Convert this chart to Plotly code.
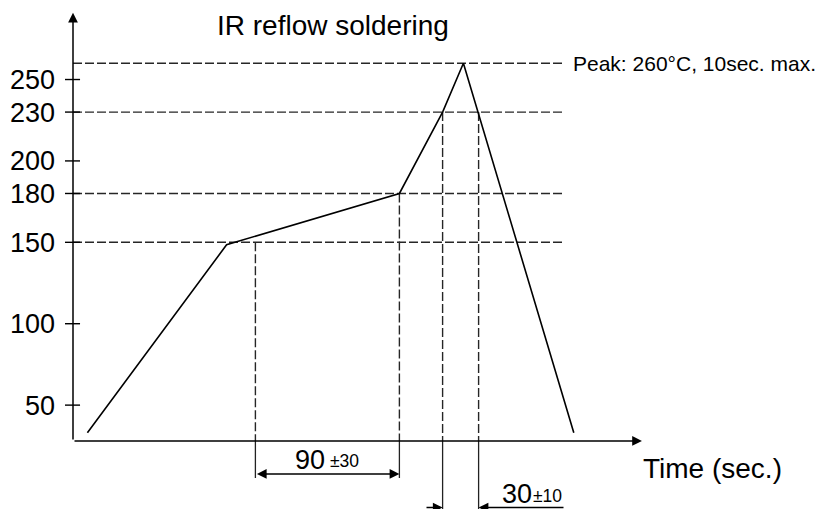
import plotly.graph_objects as go

# ---- data ----
profile_time = [9, 96, 204, 231, 244, 313]          # s (schematic)
profile_temp = [33, 148.5, 180, 230, 260, 33]        # °C
ytick_vals = [50, 100, 150, 180, 200, 230, 250]
ytick_text = ["50", "100", "150", "180", "200", "230", "250"]
h_levels = [150, 180, 230, 260]                      # dashed reference temps
v_times = [114, 204, 231, 253.5]                     # dashed verticals (time)
v_levels = [150, 180, 230, 230]                      # top of each vertical
soak_window = (114, 204)                             # 90 ±30 s
peak_window = (231, 253.5)                           # 30 ±10 s

FONT = "Liberation Sans, Arial, Helvetica, sans-serif"
W, H = 831, 509
OFF = 8                    # page body margin
X0, XPX = 73 - OFF, 1.6    # figure pixel of t=0, px per second
YPX = 1.628                # px per °C
axis_floor = 28            # temp at x-axis
axis_top = 291
x_arrow_end = 355.6
h_end = 306

def py(p):  # viewport pixel row -> paper y
    return 1 - (p - OFF) / H

def tx(p):  # viewport pixel column -> time coordinate
    return (p - OFF - X0) / XPX

fig = go.Figure()
fig.add_trace(go.Scatter(x=profile_time, y=profile_temp, mode="lines",
                         line=dict(color="black", width=1.6), hoverinfo="skip",
                         showlegend=False))

shapes = []
dash = dict(color="#262626", width=1.4, dash="9px,3px")
for lv in h_levels:
    shapes.append(dict(type="line", xref="x", yref="y", x0=0, x1=h_end, y0=lv, y1=lv,
                       line=dash, layer="below"))
for t, lv in zip(v_times, v_levels):
    shapes.append(dict(type="line", xref="x", yref="y", x0=t, x1=t, y0=lv, y1=axis_floor,
                       line=dash, layer="below"))
# solid extension lines below the axis
for t in soak_window:
    shapes.append(dict(type="line", xref="x", yref="paper", x0=t, x1=t,
                       y0=py(441), y1=py(478), line=dict(color="#222", width=1.3)))
for t in peak_window:
    shapes.append(dict(type="line", xref="x", yref="paper", x0=t, x1=t,
                       y0=py(441), y1=py(520), line=dict(color="#222", width=1.3)))
# y tick marks crossing the axis
for v in ytick_vals:
    shapes.append(dict(type="line", xref="x", yref="y", x0=-5, x1=4.4, y0=v, y1=v,
                       line=dict(color="black", width=1.4)))

ann = []
arrow_common = dict(text="", showarrow=True, arrowhead=2, arrowsize=1.3,
                    arrowwidth=1.5, arrowcolor="black", standoff=0, startstandoff=0)
# axes with arrows
ann.append(dict(x=0, y=axis_top, xref="x", yref="y", ax=0, ay=axis_floor,
                axref="x", ayref="y", **arrow_common))
ann.append(dict(x=x_arrow_end, y=axis_floor, xref="x", yref="y", ax=0, ay=axis_floor,
                axref="x", ayref="y", **arrow_common))
# 90 dimension arrow (double)
ann.append(dict(x=soak_window[1], y=axis_floor, xref="x", yref="y",
                ax=soak_window[0], ay=axis_floor, axref="x", ayref="y",
                arrowside="end+start", yshift=-33, **arrow_common))
# 30 dimension arrows (inward)
ann.append(dict(x=peak_window[0], y=py(507.5), xref="x", yref="paper",
                ax=tx(425), ay=0, axref="x", ayref="pixel", **arrow_common))
ann.append(dict(x=peak_window[1], y=py(507.5), xref="x", yref="paper",
                ax=tx(565), ay=0, axref="x", ayref="pixel", **arrow_common))

def txt(s, xpx, ypx, size, anchor="left"):
    return dict(text=s, x=tx(xpx), xref="x", y=py(ypx), yref="paper",
                xanchor=anchor, yanchor="middle", showarrow=False,
                font=dict(family=FONT, size=size, color="black"))

ann.append(txt("IR reflow soldering", 333, 25, 28, "center"))
ann.append(txt("Peak: 260°C, 10sec. max.", 571, 64, 21))
ann.append(txt("Time (sec.)", 641, 468, 28))
ann.append(txt("90", 293, 460, 27))
ann.append(txt("±30", 328, 461, 17.5))
ann.append(txt("30", 500, 494, 27))
ann.append(txt("±10", 531, 496, 17.5))

fig.update_layout(
    width=W, height=H, margin=dict(l=0, r=0, t=0, b=0),
    paper_bgcolor="white", plot_bgcolor="white",
    xaxis=dict(range=[-X0 / XPX, (W - X0) / XPX], visible=False, domain=[0, 1]),
    yaxis=dict(range=[177.5 - (H - (197.55 - OFF)) / YPX, 177.5 + (197.55 - OFF) / YPX],
               showgrid=False, zeroline=False, showline=False,
               tickvals=ytick_vals, ticktext=ytick_text, ticks="",
               anchor="free", position=X0 / W, ticklabelstandoff=18,
               tickfont=dict(family=FONT, size=27, color="black")),
    shapes=shapes, annotations=ann, showlegend=False,
)
fig.write_html("out.html")
